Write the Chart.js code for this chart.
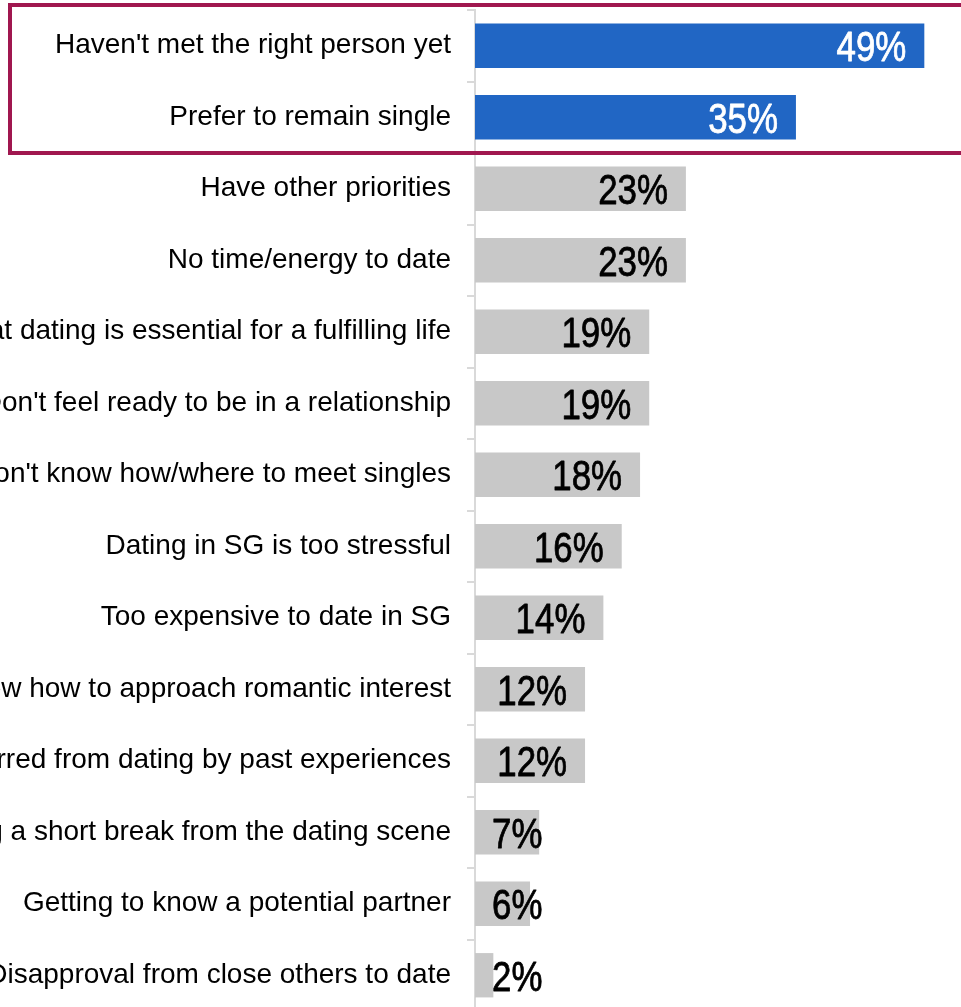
<!DOCTYPE html>
<html>
<head>
<meta charset="utf-8">
<title>Reasons for being single</title>
<script src="https://cdn.jsdelivr.net/npm/chart.js@4.4.1/dist/chart.umd.min.js"></script>
<style>
  html, body { margin: 0; padding: 0; background: #ffffff; overflow: hidden; }
  #wrap { width: 961px; height: 1007px; overflow: hidden; }
  canvas { display: block; }
</style>
</head>
<body>
<div id="wrap"><canvas id="chart" width="961" height="1012"></canvas></div>
<script>
// Reasons given for being single (% of respondents)
const categories = [
  "Haven't met the right person yet",
  "Prefer to remain single",
  "Have other priorities",
  "No time/energy to date",
  "Don't believe that dating is essential for a fulfilling life",
  "Don't feel ready to be in a relationship",
  "Don't know how/where to meet singles",
  "Dating in SG is too stressful",
  "Too expensive to date in SG",
  "Don't know how to approach romantic interest",
  "Deterred from dating by past experiences",
  "Taking a short break from the dating scene",
  "Getting to know a potential partner",
  "Disapproval from close others to date"
];
const percentages = [49, 35, 23, 23, 19, 19, 18, 16, 14, 12, 12, 7, 6, 2];
// The first two reasons are highlighted
const highlightedCount = 2;

const BLUE = '#2166c4';
const GREY = '#c8c8c8';
const AXIS = '#d9d9d9';
const FRAME = '#a0174f';

const barColors = percentages.map((_, i) => i < highlightedCount ? BLUE : GREY);
const labelColors = percentages.map((_, i) => i < highlightedCount ? '#ffffff' : '#000000');

// Percentage labels at the end of each bar, kept clear of the axis for short bars
const valueLabels = {
  id: 'valueLabels',
  afterDatasetsDraw(chart) {
    const { ctx, chartArea } = chart;
    const meta = chart.getDatasetMeta(0);
    const squeeze = 0.83;
    ctx.save();
    ctx.font = '42px "Liberation Sans", Arial, sans-serif';
    ctx.textAlign = 'left';
    ctx.textBaseline = 'alphabetic';
    ctx.lineJoin = 'round';
    meta.data.forEach((bar, i) => {
      const text = percentages[i] + '%';
      const w = ctx.measureText(text).width * squeeze;
      let left = bar.x - 18 - w;
      left = Math.max(left, chartArea.left + 17);
      ctx.fillStyle = labelColors[i];
      ctx.strokeStyle = labelColors[i];
      ctx.lineWidth = 0.8;
      ctx.save();
      ctx.translate(left, bar.y + 15.5);
      ctx.scale(squeeze, 1);
      ctx.fillText(text, 0, 0);
      ctx.strokeText(text, 0, 0);
      ctx.restore();
    });
    ctx.restore();
  }
};

// Frame around the highlighted reasons
const highlightFrame = {
  id: 'highlightFrame',
  afterDraw(chart) {
    const { ctx, scales } = chart;
    const y = scales.y;
    const band = (y.getPixelForValue(1) - y.getPixelForValue(0));
    const top = y.getPixelForValue(0) - band / 2 - 5;
    const bottom = y.getPixelForValue(highlightedCount - 1) + band / 2;
    ctx.save();
    ctx.strokeStyle = FRAME;
    ctx.lineWidth = 4;
    ctx.strokeRect(10, top, chart.width + 20, bottom - top);
    ctx.restore();
  }
};

new Chart(document.getElementById('chart'), {
  type: 'bar',
  data: {
    labels: categories,
    datasets: [{
      data: percentages,
      backgroundColor: barColors,
      borderWidth: 0,
      barPercentage: 0.62,
      categoryPercentage: 1.0
    }]
  },
  options: {
    indexAxis: 'y',
    responsive: false,
    devicePixelRatio: 1,
    animation: false,
    layout: { padding: { top: 10, bottom: 1, left: 0, right: 0 } },
    plugins: {
      legend: { display: false },
      tooltip: { enabled: false },
      title: { display: false }
    },
    scales: {
      x: {
        display: false,
        min: 0,
        max: 53
      },
      y: {
        afterFit(scale) {
          scale.width = 475;
          scale.paddingTop = 0;
          scale.paddingBottom = 0;
        },
        grid: {
          display: true,
          drawOnChartArea: false,
          drawTicks: true,
          tickLength: 8,
          color: AXIS,
          lineWidth: 2,
          offset: true
        },
        border: { display: true, color: AXIS, width: 2 },
        ticks: {
          padding: 16,
          color: '#000000',
          autoSkip: false,
          font: { family: '"Liberation Sans", Arial, sans-serif', size: 28 }
        }
      }
    }
  },
  plugins: [valueLabels, highlightFrame]
});
</script>
</body>
</html>
